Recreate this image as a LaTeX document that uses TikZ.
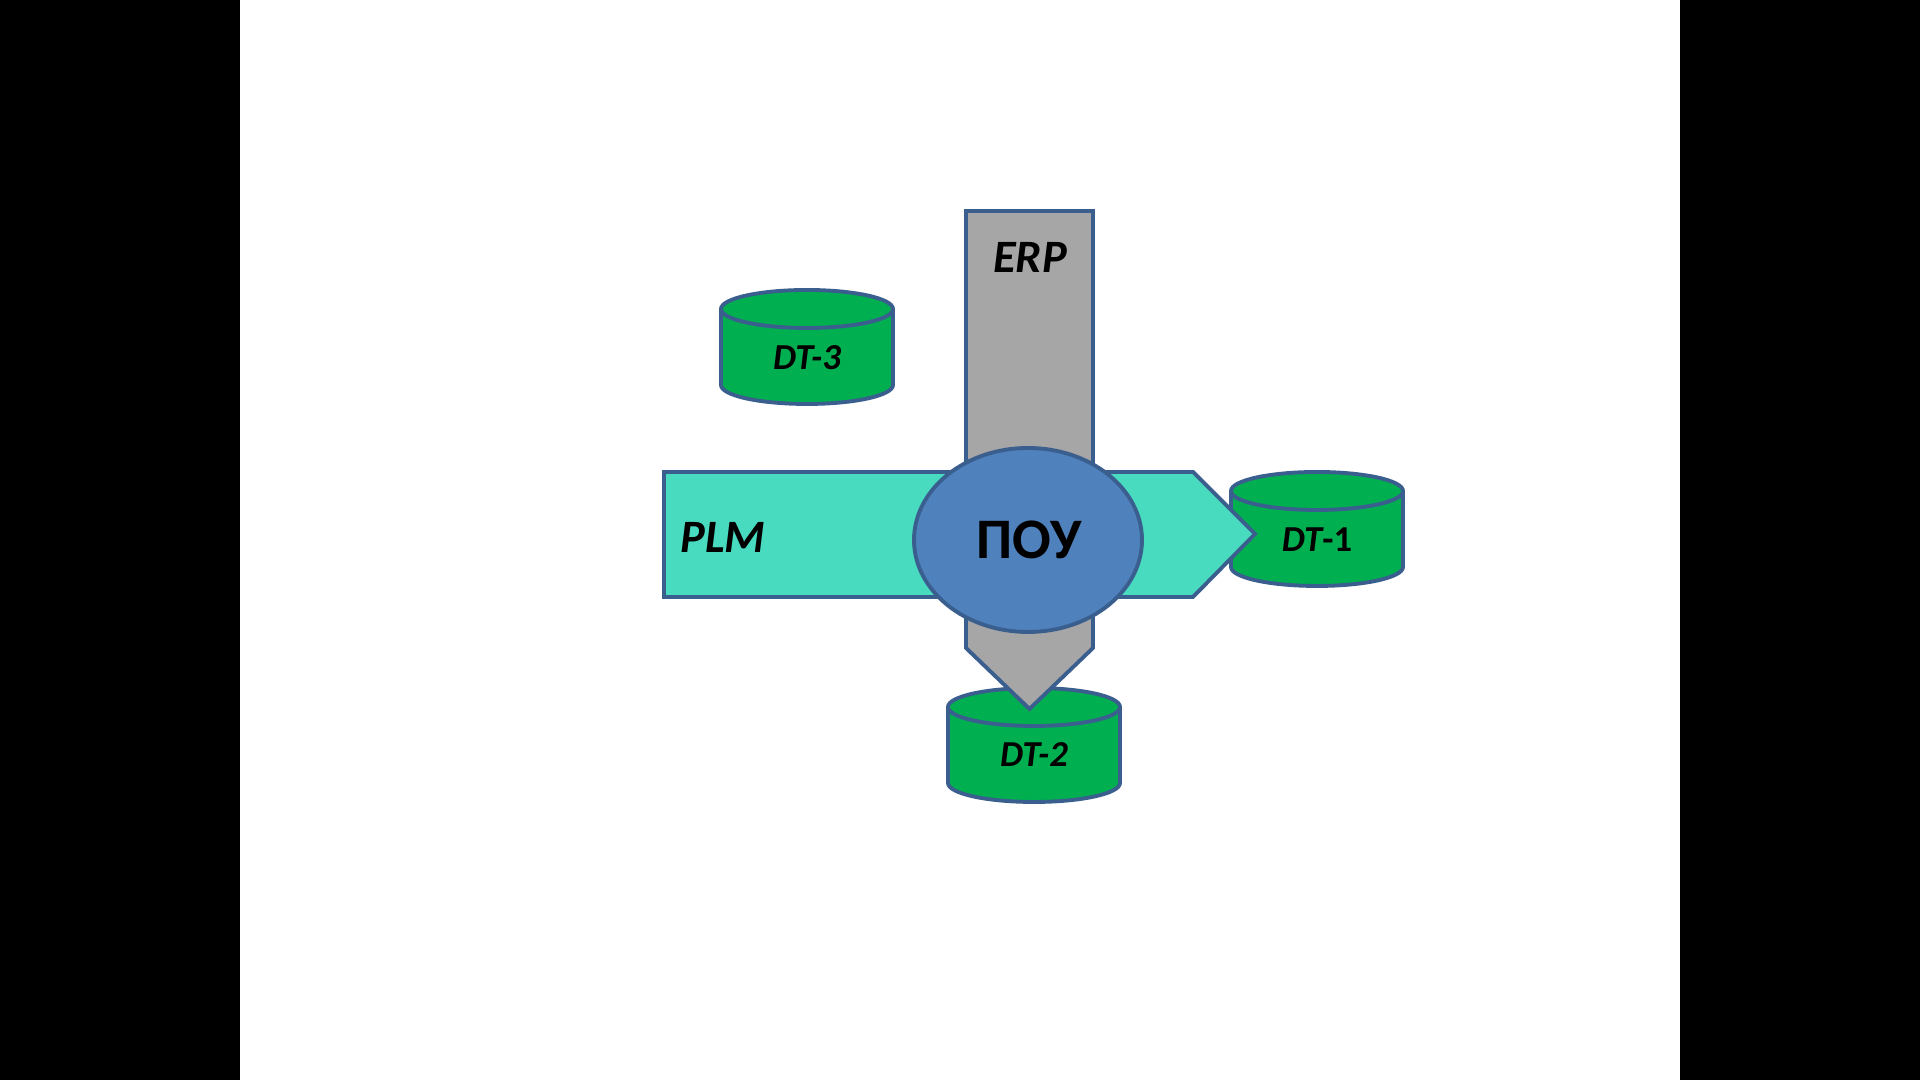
\documentclass[tikz,border=0pt]{standalone}
\usepackage{fontspec}
\setmainfont{Carlito}
\definecolor{edge}{HTML}{3A5F8E}
\definecolor{plmteal}{HTML}{48DBC0}
\definecolor{erpgrey}{HTML}{A6A6A6}
\definecolor{poublue}{HTML}{4F81BD}
\definecolor{dtgreen}{HTML}{00B050}
\tikzset{
  outline/.style={draw=edge,line width=1.1pt,line join=miter},
  drum/.style={outline,fill=dtgreen},
  tag/.style={font=\bfseries\itshape\fontsize{13.2}{15}\selectfont},
  dtlabel/.style={font=\bfseries\itshape\fontsize{10.4}{12}\selectfont}
}
\begin{document}
\begin{tikzpicture}[x=0.01cm,y=0.01cm]
\useasboundingbox (0,0) rectangle (1920,1080);
\fill[black] (0,0) rectangle (240,1080);
\fill[black] (1680,0) rectangle (1920,1080);

% DT-3
\draw[drum] (721,771) -- (721,695) arc[start angle=180,end angle=360,x radius=86,y radius=19] -- (893,771);
\draw[drum] (807,771) ellipse [x radius=86,y radius=19];
\node[dtlabel] (dt3) at (807,722) {DT-3};

% DT-2 and DT-1 lie under the arrow tips
\draw[drum] (948,373) -- (948,297) arc[start angle=180,end angle=360,x radius=86,y radius=19] -- (1120,373);
\draw[drum] (1034,373) ellipse [x radius=86,y radius=19];
\node[dtlabel] (dt2) at (1034,325) {DT-2};

\draw[drum] (1231,589) -- (1231,513) arc[start angle=180,end angle=360,x radius=86,y radius=19] -- (1403,589);
\draw[drum] (1317,589) ellipse [x radius=86,y radius=19];
\node[dtlabel] (dt1) at (1317,540) {\textit{DT}\upshape-1};

% ERP arrow
\draw[outline,fill=erpgrey] (966,869) -- (1093,869) -- (1093,432) -- (1029.5,371) -- (966,432) -- cycle;
% PLM arrow
\draw[outline,fill=plmteal] (664,608) -- (1193,608) -- (1255,546) -- (1193,483) -- (664,483) -- cycle;

\node[tag] (erp) at (1030,823) {ERP};
\node[tag] (plm) at (723,543) {PLM};

\draw[outline,fill=poublue] (1028,540) ellipse [x radius=114,y radius=92];
\node[font=\bfseries\fontsize{16.3}{19}\selectfont] (pou) at (1029,540) {ПОУ};
\end{tikzpicture}
\end{document}
